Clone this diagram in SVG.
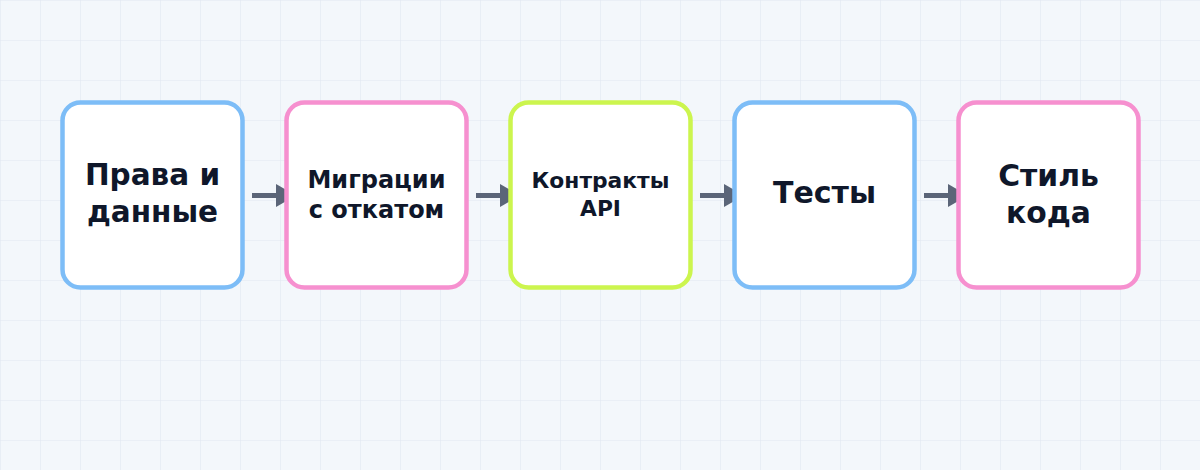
<svg xmlns="http://www.w3.org/2000/svg" width="1200" height="470" viewBox="0 0 1200 470">
  <defs>
    <pattern id="grid" width="40" height="40" patternUnits="userSpaceOnUse">
      <path d="M40 0 L0 0 L0 40" fill="none" stroke="#e1e8f2" stroke-width="1.2"/>
    </pattern>
    <style>
      .box { fill: #ffffff; stroke-width: 4.5; }
      .blue { stroke: #7dbdf7; }
      .pink { stroke: #f690cf; }
      .green { stroke: #ccf54e; }
      .lbl { font-family: "DejaVu Sans", sans-serif; font-weight: bold; fill: #0f172a; text-anchor: middle; }
      .conn line { stroke: #5b6578; stroke-width: 5; }
      .conn polygon { fill: #5b6578; }
    </style>
  </defs>
  <rect width="1200" height="470" fill="#f3f7fb"/>
  <rect width="1200" height="470" fill="url(#grid)"/>

  <g id="connectors" class="conn">
    <line x1="252" y1="195.5" x2="277" y2="195.5"/>
    <polygon points="276,184 296,195.5 276,207"/>
    <line x1="476" y1="195.5" x2="501" y2="195.5"/>
    <polygon points="500,184 520,195.5 500,207"/>
    <line x1="700" y1="195.5" x2="725" y2="195.5"/>
    <polygon points="724,184 744,195.5 724,207"/>
    <line x1="924" y1="195.5" x2="949" y2="195.5"/>
    <polygon points="948,184 968,195.5 948,207"/>
  </g>

  <g id="node1">
    <rect class="box blue" x="62.5" y="102.5" width="180" height="185" rx="18"/>
    <text class="lbl" font-size="29.5" x="152.5" y="184.5">Права и</text>
    <text class="lbl" font-size="29.5" x="152.5" y="222">данные</text>
  </g>
  <g id="node2">
    <rect class="box pink" x="286.5" y="102.5" width="180" height="185" rx="18"/>
    <text class="lbl" font-size="24" x="376.5" y="188">Миграции</text>
    <text class="lbl" font-size="24" x="376.5" y="218">с откатом</text>
  </g>
  <g id="node3">
    <rect class="box green" x="510.5" y="102.5" width="180" height="185" rx="18"/>
    <text class="lbl" font-size="21.8" x="600.5" y="188">Контракты</text>
    <text class="lbl" font-size="21.8" x="600.5" y="216">API</text>
  </g>
  <g id="node4">
    <rect class="box blue" x="734.5" y="102.5" width="180" height="185" rx="18"/>
    <text class="lbl" font-size="30" x="824.5" y="203">Тесты</text>
  </g>
  <g id="node5">
    <rect class="box pink" x="958.5" y="102.5" width="180" height="185" rx="18"/>
    <text class="lbl" font-size="29.8" x="1048.5" y="186">Стиль</text>
    <text class="lbl" font-size="29.8" x="1048.5" y="223">кода</text>
  </g>
</svg>
